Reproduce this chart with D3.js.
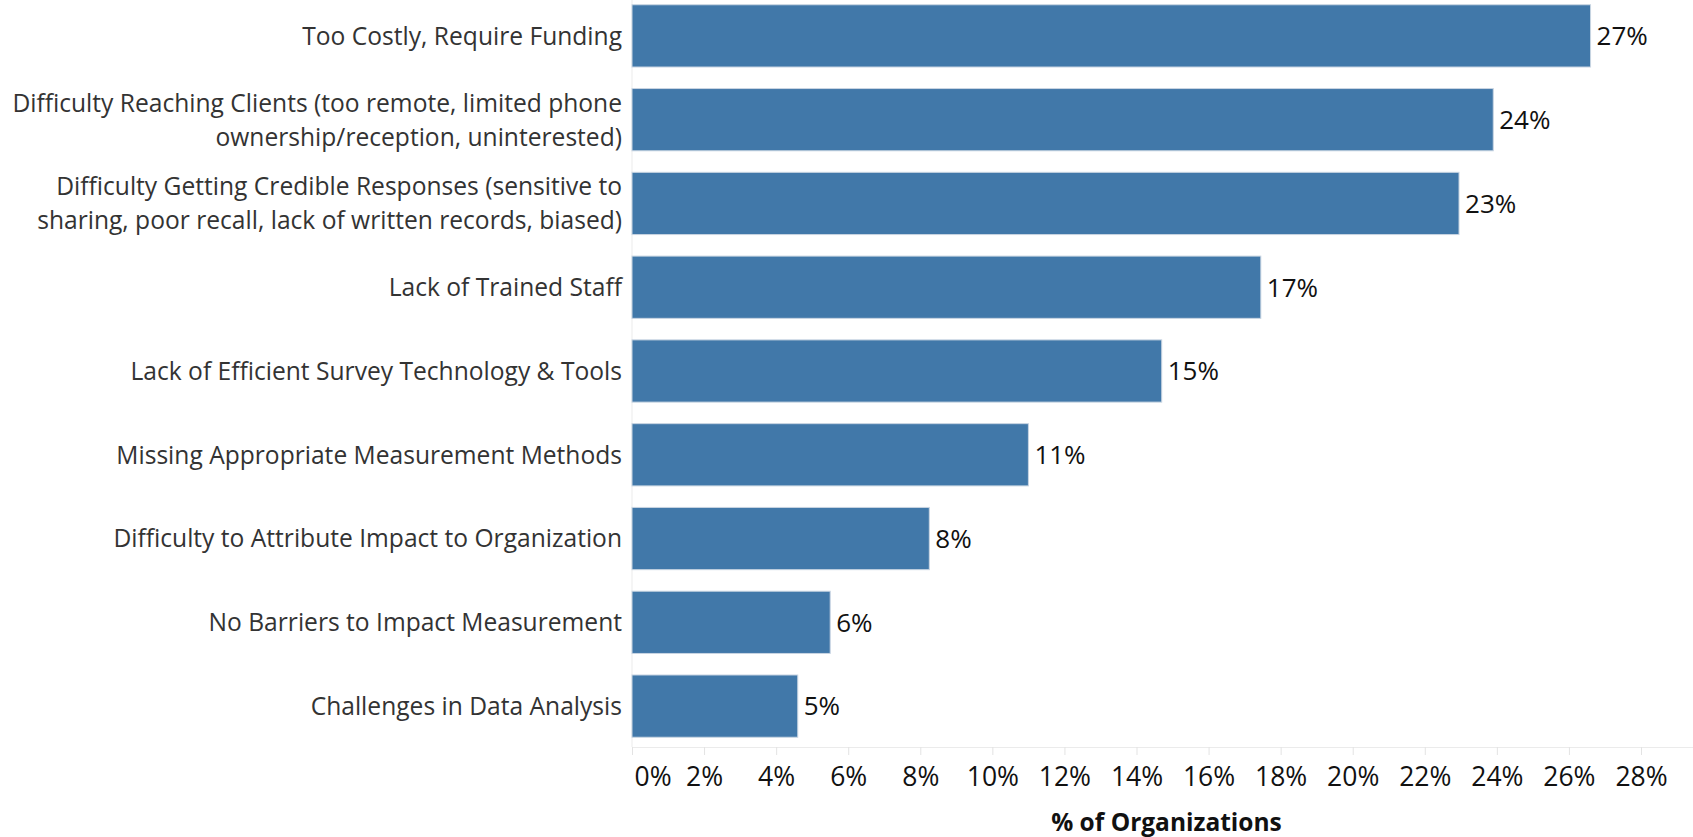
<!DOCTYPE html>
<html>
<head>
<meta charset="utf-8">
<script src="https://cdn.jsdelivr.net/npm/d3@7.9.0/dist/d3.min.js"></script>
<style>
  body { margin: 0; background: #fff; }
  svg { display: block; font-family: "Open Sans", "Noto Sans", sans-serif; }
</style>
</head>
<body>
<div class="container"></div>
<script>
// barriers to impact measurement, share of organizations (%)
const categories = [
  ["Too Costly, Require Funding"],
  ["Difficulty Reaching Clients (too remote, limited phone", "ownership/reception, uninterested)"],
  ["Difficulty Getting Credible Responses (sensitive to", "sharing, poor recall, lack of written records, biased)"],
  ["Lack of Trained Staff"],
  ["Lack of Efficient Survey Technology & Tools"],
  ["Missing Appropriate Measurement Methods"],
  ["Difficulty to Attribute Impact to Organization"],
  ["No Barriers to Impact Measurement"],
  ["Challenges in Data Analysis"]
];
const values = [26.6, 23.9, 22.95, 17.45, 14.7, 11.0, 8.25, 5.5, 4.6];
const valueLabels = ["27%", "24%", "23%", "17%", "15%", "11%", "8%", "6%", "5%"];
const tickValues = [0, 2, 4, 6, 8, 10, 12, 14, 16, 18, 20, 22, 24, 26, 28];
const axisTitle = "% of Organizations";

const width = 1693, height = 837;
const plotLeft = 632, plotRight = 1693, axisY = 747;

const svg = d3.select(".container")
  .append("svg")
  .attr("width", width)
  .attr("height", height);

const x = d3.scaleLinear()
  .domain([0, 28])
  .range([plotLeft, 1641]);

const y = d3.scaleBand()
  .domain(d3.range(categories.length))
  .range([-6, axisY + 1])
  .paddingInner(0.257)
  .paddingOuter(0.1285);

// light frame line on the left of the bars
svg.append("line")
  .attr("x1", plotLeft).attr("x2", plotLeft)
  .attr("y1", 0).attr("y2", axisY)
  .attr("stroke", "#ebebeb");

// bars
svg.append("g")
  .selectAll("rect")
  .data(values)
  .join("rect")
  .attr("x", x(0))
  .attr("y", (d, i) => y(i))
  .attr("width", d => x(d) - x(0))
  .attr("height", y.bandwidth())
  .attr("fill", "#4178a9")
  .attr("stroke", "#c9d5e2")
  .attr("stroke-width", 1);

// value labels
svg.append("g")
  .selectAll("text")
  .data(values)
  .join("text")
  .attr("x", d => x(d) + 6)
  .attr("y", (d, i) => y(i) + y.bandwidth() / 2)
  .attr("dy", "0.36em")
  .attr("font-size", 26)
  .attr("fill", "#111")
  .text((d, i) => valueLabels[i]);

// category labels
const lineH = 34;
const cat = svg.append("g")
  .selectAll("text")
  .data(categories)
  .join("text")
  .attr("text-anchor", "end")
  .attr("font-size", 24.6)
  .attr("fill", "#333")
  .attr("y", (d, i) => y(i) + y.bandwidth() / 2 - (d.length - 1) * lineH / 2);
cat.selectAll("tspan")
  .data(d => d)
  .join("tspan")
  .attr("x", 622)
  .attr("dy", (d, j) => j === 0 ? "0.36em" : lineH)
  .text(d => d);

// x axis
const xAxis = d3.axisBottom(x)
  .tickValues(tickValues)
  .tickFormat(d => d + "%")
  .tickSize(8)
  .tickPadding(12);

const ax = svg.append("g")
  .attr("transform", `translate(0,${axisY})`)
  .call(xAxis);
ax.select(".domain").attr("stroke", "#ebebeb").attr("d", `M${plotLeft},0.5H${plotRight}`);
ax.selectAll(".tick line").attr("stroke", "#e3e3e3");
ax.selectAll(".tick text")
  .attr("font-family", "'Open Sans', sans-serif")
  .attr("font-size", 26.5)
  .attr("fill", "#111");
ax.selectAll(".tick text").filter(d => d === 0)
  .attr("text-anchor", "start")
  .attr("dx", 2);

svg.append("text")
  .attr("x", (plotLeft + plotRight) / 2 + 4)
  .attr("y", 831)
  .attr("text-anchor", "middle")
  .attr("font-size", 24.5)
  .attr("font-weight", "bold")
  .attr("fill", "#111")
  .text(axisTitle);
</script>
</body>
</html>
